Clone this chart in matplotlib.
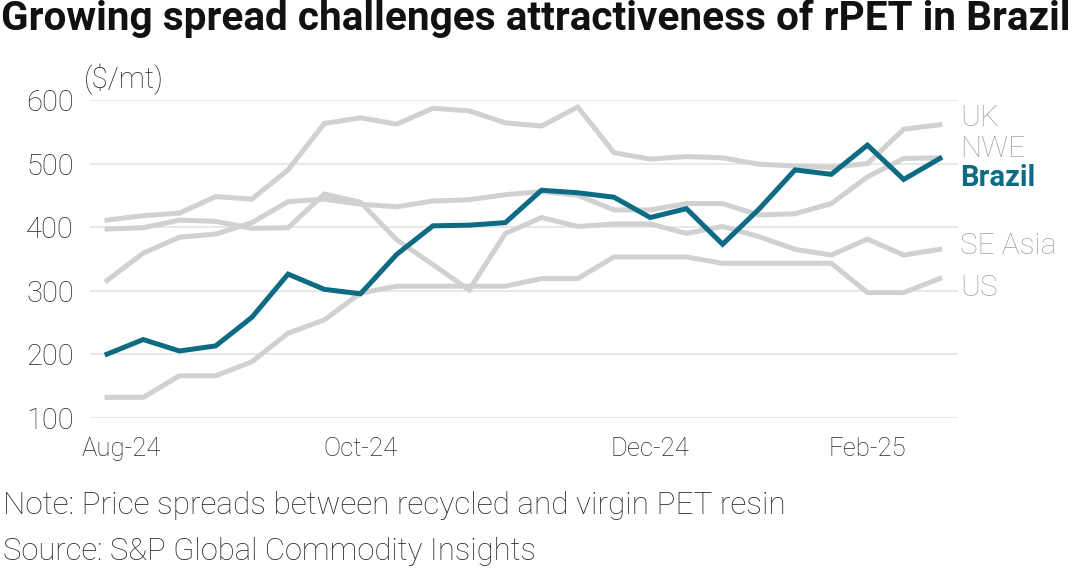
import matplotlib
matplotlib.use("Agg")
import matplotlib.pyplot as plt
import numpy as np

# ---- data (semi-regular price assessments, categorical index) ----
uk = [411, 418, 422, 448, 444, 490, 563, 572, 562, 587, 583, 564, 559,
      589, 517, 507, 511, 509, 499, 496, 494, 500, 554, 561]
nwe = [316, 359, 384, 389, 407, 440, 444, 436, 432, 441, 443, 451, 456,
       450, 427, 427, 437, 437, 419, 421, 437, 479, 508, 509]
brazil = [200, 223, 205, 213, 258, 326, 302, 295, 357, 402, 403, 407, 458,
          454, 447, 415, 429, 373, 428, 490, 483, 529, 475, 508]
se_asia = [397, 399, 411, 409, 398, 399, 452, 439, 380, 341, 301, 390, 415,
           401, 405, 405, 390, 401, 385, 365, 356, 381, 356, 365]
us = [132, 132, 166, 166, 188, 233, 254, 296, 307, 307, 307, 307, 319,
      319, 353, 353, 353, 343, 343, 343, 343, 297, 297, 319]

tick_idx = [0, 7, 15, 21]
tick_labels = ["Aug-24", "Oct-24", "Dec-24", "Feb-25"]
y_ticks = [100, 200, 300, 400, 500, 600]

series_gray = [("UK", uk, 572), ("NWE", nwe, 523), ("SE Asia", se_asia, 370), ("US", us, 304)]

TEAL = "#0d6c84"
GRAY_LINE = "#d0d1d3"
GRAY_TXT = "#a3a5a8"
GRID = "#e4e4e4"
TXT = "#2a2a2a"
FONT = "Roboto"

W, H = 1076, 569
fig = plt.figure(figsize=(W / 100, H / 100), dpi=100)
ax = fig.add_axes([90 / W, 1 - 417.7 / H, (958 - 90) / W, (417.7 - 100) / H])

x = np.arange(len(brazil))
for name, vals, _ in series_gray:
    ax.plot(x, vals, color=GRAY_LINE, lw=3.6, solid_joinstyle="miter", clip_on=False, zorder=2)
ax.plot(x, brazil, color=TEAL, lw=3.6, solid_joinstyle="miter", clip_on=False, zorder=3)

ax.set_xlim(-0.47, 23.5)
ax.set_ylim(100, 600)
ax.set_yticks(y_ticks)
ax.set_yticklabels([str(v) for v in y_ticks], fontfamily=FONT, fontweight="light",
                   fontsize=21, color=TXT)
ax.grid(axis="y", color=GRID, lw=1.2, zorder=0)
ax.tick_params(axis="y", length=0, pad=11.5)
ax.tick_params(axis="x", length=0, pad=14)
ax.set_xticks([tick_idx[0] + 0.39] + tick_idx[1:])
ax.set_xticklabels(tick_labels, fontfamily=FONT, fontweight="light", fontsize=18.5, color=TXT)
for s in ax.spines.values():
    s.set_visible(False)

# end labels
for name, vals, ylab in series_gray:
    ax.text(23.55, ylab, name, fontfamily=FONT, fontweight="light", fontsize=21.5,
            color=GRAY_TXT, va="center", ha="left", clip_on=False)
ax.text(23.55, 478, "Brazil", fontfamily=FONT, fontweight="bold", fontsize=21,
        color=TEAL, va="center", ha="left", clip_on=False)

# unit label
fig.text(84 / W, 1 - 79 / H, "($/mt)", fontfamily=FONT, fontweight="light", fontsize=21,
         color=TXT, va="center", ha="left")

# title / notes, scaled to reference widths
def fit_text(xpx, ypx, s, target_w, weight, base=18, color="#111111"):
    t = fig.text(xpx / W, 1 - ypx / H, s, fontfamily=FONT, fontweight=weight,
                 fontsize=base, color=color, va="center", ha="left")
    fig.canvas.draw()
    w = t.get_window_extent().width
    t.set_fontsize(base * target_w / w)
    return t

fit_text(1, 19, "Growing spread challenges attractiveness of rPET in Brazil", 1070, "bold")
fit_text(3, 505, "Note: Price spreads between recycled and virgin PET resin", 784, "light", color=TXT)
fit_text(3, 551, "Source: S&P Global Commodity Insights", 535, "light", color=TXT)

fig.savefig("out.png", dpi=100)
